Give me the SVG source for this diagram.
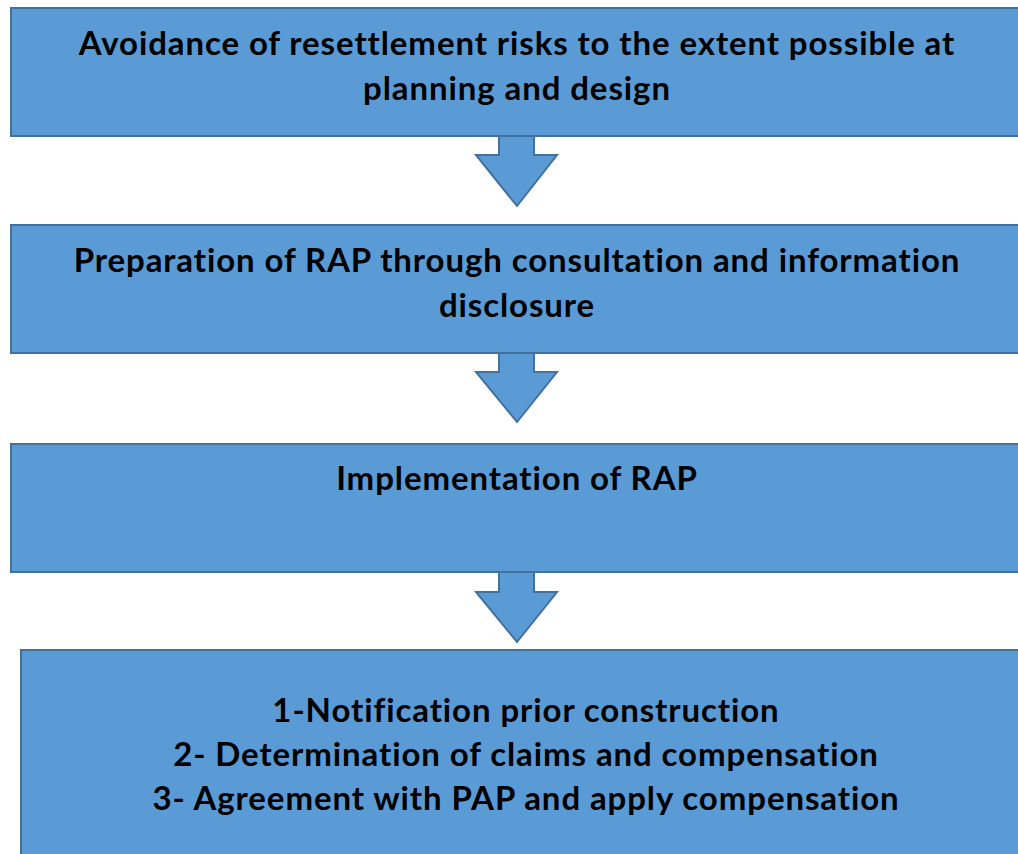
<svg xmlns="http://www.w3.org/2000/svg" width="1018" height="854" viewBox="0 0 1018 854">
<style>
.box{fill:#5B9BD5;stroke:#41719C;stroke-width:2}
.arr{fill:#5B9BD5;stroke:#41719C;stroke-width:2;stroke-linejoin:miter}
text{font-family:Lato,"Liberation Sans",sans-serif;font-weight:bold;font-size:33px;letter-spacing:0.9px;fill:#000;text-anchor:middle}
</style>
<rect width="1018" height="854" fill="#fff"/>
<g id="connectors">
<path class="arr" d="M499,137 L499,155 L476,155 L517,206 L557,155 L534,155 L534,137"/>
<path class="arr" d="M499,354 L499,372 L476,372 L517,422 L557,372 L534,372 L534,354"/>
<path class="arr" d="M499,573 L499,592 L476,592 L517,642 L557,592 L534,592 L534,573"/>
</g>
<g id="node1">
<rect class="box" x="11" y="8" width="1020" height="128"/>
<text x="517" y="55">Avoidance of resettlement risks to the extent possible at</text>
<text x="517" y="100">planning and design</text>
</g>
<g id="node2">
<rect class="box" x="11" y="225" width="1020" height="128"/>
<text x="517" y="272">Preparation of RAP through consultation and information</text>
<text x="517" y="317">disclosure</text>
</g>
<g id="node3">
<rect class="box" x="11" y="444" width="1020" height="128"/>
<text x="517" y="490">Implementation of RAP</text>
</g>
<g id="node4">
<rect class="box" x="21" y="650" width="1010" height="220"/>
<text x="526" y="722">1-Notification prior construction</text>
<text x="526" y="766">2- Determination of claims and compensation</text>
<text x="526" y="810">3- Agreement with PAP and apply compensation</text>
</g>
</svg>
